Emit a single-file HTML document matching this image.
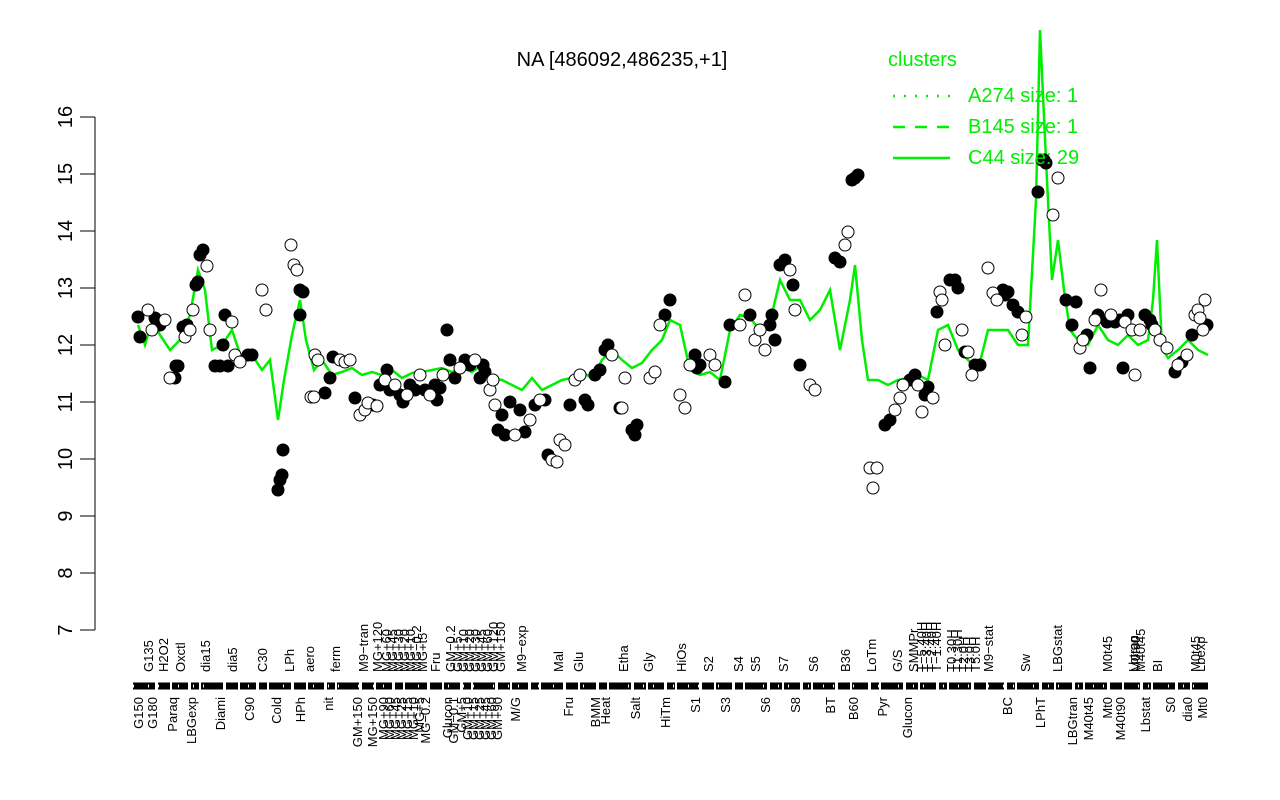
<!DOCTYPE html>
<html><head><meta charset="utf-8"><style>body{margin:0;background:#fff}svg{display:block}</style></head>
<body>
<svg width="1280" height="800" xmlns="http://www.w3.org/2000/svg" font-family="Liberation Sans, sans-serif">
<rect width="1280" height="800" fill="#fff"/>
<text x="622" y="66" font-size="20" text-anchor="middle">NA [486092,486235,+1]</text>
<g stroke="#000" stroke-width="1">
<line x1="95" y1="117" x2="95" y2="630"/>
<line x1="80" y1="117" x2="95" y2="117"/><line x1="80" y1="174" x2="95" y2="174"/><line x1="80" y1="231" x2="95" y2="231"/><line x1="80" y1="288" x2="95" y2="288"/><line x1="80" y1="345" x2="95" y2="345"/><line x1="80" y1="402" x2="95" y2="402"/><line x1="80" y1="459" x2="95" y2="459"/><line x1="80" y1="516" x2="95" y2="516"/><line x1="80" y1="573" x2="95" y2="573"/><line x1="80" y1="630" x2="95" y2="630"/>
</g>
<g font-size="20" text-anchor="middle">
<text transform="translate(72,117) rotate(-90)">16</text><text transform="translate(72,174) rotate(-90)">15</text><text transform="translate(72,231) rotate(-90)">14</text><text transform="translate(72,288) rotate(-90)">13</text><text transform="translate(72,345) rotate(-90)">12</text><text transform="translate(72,402) rotate(-90)">11</text><text transform="translate(72,459) rotate(-90)">10</text><text transform="translate(72,516) rotate(-90)">9</text><text transform="translate(72,573) rotate(-90)">8</text><text transform="translate(72,630) rotate(-90)">7</text>
</g>
<polyline fill="none" stroke="#00ee00" stroke-width="2.5" points="138,325 145,345 152,320 160,335 170,350 180,340 190,315 198,270 205,290 212,350 222,345 232,330 242,360 252,355 262,370 270,360 278,420 284,380 292,335 300,300 306,340 314,370 322,360 332,375 342,372 352,368 362,375 372,372 382,375 392,370 402,378 412,373 422,372 432,370 442,368 452,372 462,368 472,372 482,365 492,378 502,380 512,385 522,390 532,378 542,390 552,385 562,380 572,378 582,372 592,378 602,360 612,350 622,360 632,368 642,363 652,350 662,340 670,320 680,325 690,370 700,375 710,372 720,380 730,330 740,315 750,318 760,330 770,322 780,280 790,300 800,300 810,320 820,310 830,290 840,350 850,300 855,265 862,340 868,380 878,380 888,385 898,380 908,378 918,375 928,380 938,330 948,325 958,350 968,360 978,370 988,330 998,330 1008,330 1018,345 1028,345 1036,200 1040,30 1046,160 1052,280 1058,240 1064,290 1070,330 1078,340 1088,345 1098,325 1108,340 1118,345 1128,335 1138,345 1148,340 1153,300 1157,240 1162,348 1168,358 1178,350 1188,340 1198,350 1208,355"/>
<g stroke="#000" stroke-width="1">
<g fill="#000">
<circle cx="138" cy="317" r="6"/><circle cx="140" cy="337" r="6"/><circle cx="155" cy="318" r="6"/><circle cx="160" cy="325" r="6"/><circle cx="175" cy="378" r="6"/><circle cx="176" cy="366" r="6"/><circle cx="178" cy="366" r="6"/><circle cx="183" cy="327" r="6"/><circle cx="187" cy="325" r="6"/><circle cx="196" cy="285" r="6"/><circle cx="198" cy="282" r="6"/><circle cx="200" cy="255" r="6"/><circle cx="203" cy="250" r="6"/><circle cx="215" cy="366" r="6"/><circle cx="220" cy="366" r="6"/><circle cx="223" cy="345" r="6"/><circle cx="225" cy="315" r="6"/><circle cx="228" cy="366" r="6"/><circle cx="248" cy="355" r="6"/><circle cx="252" cy="355" r="6"/><circle cx="278" cy="490" r="6"/><circle cx="280" cy="480" r="6"/><circle cx="282" cy="475" r="6"/><circle cx="283" cy="450" r="6"/><circle cx="300" cy="290" r="6"/><circle cx="303" cy="292" r="6"/><circle cx="300" cy="315" r="6"/><circle cx="325" cy="393" r="6"/><circle cx="330" cy="378" r="6"/><circle cx="333" cy="357" r="6"/><circle cx="355" cy="398" r="6"/><circle cx="373" cy="405" r="6"/><circle cx="380" cy="385" r="6"/><circle cx="387" cy="370" r="6"/><circle cx="390" cy="390" r="6"/><circle cx="400" cy="395" r="6"/><circle cx="403" cy="402" r="6"/><circle cx="410" cy="385" r="6"/><circle cx="415" cy="390" r="6"/><circle cx="425" cy="390" r="6"/><circle cx="435" cy="385" r="6"/><circle cx="437" cy="400" r="6"/><circle cx="440" cy="388" r="6"/><circle cx="447" cy="330" r="6"/><circle cx="450" cy="360" r="6"/><circle cx="455" cy="378" r="6"/><circle cx="465" cy="360" r="6"/><circle cx="470" cy="365" r="6"/><circle cx="480" cy="378" r="6"/><circle cx="483" cy="365" r="6"/><circle cx="485" cy="372" r="6"/><circle cx="498" cy="430" r="6"/><circle cx="502" cy="415" r="6"/><circle cx="505" cy="435" r="6"/><circle cx="510" cy="402" r="6"/><circle cx="520" cy="410" r="6"/><circle cx="525" cy="432" r="6"/><circle cx="535" cy="405" r="6"/><circle cx="545" cy="400" r="6"/><circle cx="548" cy="455" r="6"/><circle cx="570" cy="405" r="6"/><circle cx="585" cy="400" r="6"/><circle cx="588" cy="405" r="6"/><circle cx="595" cy="375" r="6"/><circle cx="600" cy="370" r="6"/><circle cx="605" cy="350" r="6"/><circle cx="608" cy="345" r="6"/><circle cx="620" cy="408" r="6"/><circle cx="632" cy="430" r="6"/><circle cx="635" cy="435" r="6"/><circle cx="637" cy="425" r="6"/><circle cx="665" cy="315" r="6"/><circle cx="670" cy="300" r="6"/><circle cx="695" cy="355" r="6"/><circle cx="697" cy="368" r="6"/><circle cx="700" cy="365" r="6"/><circle cx="725" cy="382" r="6"/><circle cx="730" cy="325" r="6"/><circle cx="750" cy="315" r="6"/><circle cx="770" cy="325" r="6"/><circle cx="772" cy="315" r="6"/><circle cx="775" cy="340" r="6"/><circle cx="780" cy="265" r="6"/><circle cx="785" cy="260" r="6"/><circle cx="793" cy="285" r="6"/><circle cx="800" cy="365" r="6"/><circle cx="835" cy="258" r="6"/><circle cx="840" cy="262" r="6"/><circle cx="852" cy="180" r="6"/><circle cx="855" cy="178" r="6"/><circle cx="858" cy="175" r="6"/><circle cx="885" cy="425" r="6"/><circle cx="890" cy="420" r="6"/><circle cx="910" cy="380" r="6"/><circle cx="915" cy="375" r="6"/><circle cx="925" cy="395" r="6"/><circle cx="928" cy="387" r="6"/><circle cx="937" cy="312" r="6"/><circle cx="950" cy="280" r="6"/><circle cx="955" cy="280" r="6"/><circle cx="958" cy="288" r="6"/><circle cx="965" cy="352" r="6"/><circle cx="975" cy="365" r="6"/><circle cx="980" cy="365" r="6"/><circle cx="1003" cy="290" r="6"/><circle cx="1005" cy="295" r="6"/><circle cx="1008" cy="292" r="6"/><circle cx="1013" cy="305" r="6"/><circle cx="1018" cy="312" r="6"/><circle cx="1038" cy="192" r="6"/><circle cx="1042" cy="160" r="6"/><circle cx="1044" cy="160" r="6"/><circle cx="1046" cy="163" r="6"/><circle cx="1066" cy="300" r="6"/><circle cx="1072" cy="325" r="6"/><circle cx="1076" cy="302" r="6"/><circle cx="1087" cy="335" r="6"/><circle cx="1090" cy="368" r="6"/><circle cx="1098" cy="315" r="6"/><circle cx="1107" cy="322" r="6"/><circle cx="1115" cy="322" r="6"/><circle cx="1120" cy="320" r="6"/><circle cx="1123" cy="368" r="6"/><circle cx="1128" cy="315" r="6"/><circle cx="1145" cy="315" r="6"/><circle cx="1150" cy="320" r="6"/><circle cx="1152" cy="325" r="6"/><circle cx="1175" cy="372" r="6"/><circle cx="1182" cy="362" r="6"/><circle cx="1192" cy="335" r="6"/><circle cx="1207" cy="325" r="6"/>
</g>
<g fill="#fff">
<circle cx="148" cy="310" r="6"/><circle cx="152" cy="330" r="6"/><circle cx="165" cy="320" r="6"/><circle cx="170" cy="378" r="6"/><circle cx="185" cy="337" r="6"/><circle cx="190" cy="330" r="6"/><circle cx="193" cy="310" r="6"/><circle cx="207" cy="266" r="6"/><circle cx="210" cy="330" r="6"/><circle cx="232" cy="322" r="6"/><circle cx="235" cy="355" r="6"/><circle cx="240" cy="362" r="6"/><circle cx="262" cy="290" r="6"/><circle cx="266" cy="310" r="6"/><circle cx="291" cy="245" r="6"/><circle cx="294" cy="265" r="6"/><circle cx="297" cy="270" r="6"/><circle cx="315" cy="355" r="6"/><circle cx="311" cy="397" r="6"/><circle cx="314" cy="397" r="6"/><circle cx="318" cy="360" r="6"/><circle cx="340" cy="360" r="6"/><circle cx="345" cy="362" r="6"/><circle cx="350" cy="360" r="6"/><circle cx="360" cy="415" r="6"/><circle cx="365" cy="410" r="6"/><circle cx="368" cy="403" r="6"/><circle cx="377" cy="406" r="6"/><circle cx="385" cy="380" r="6"/><circle cx="395" cy="385" r="6"/><circle cx="407" cy="395" r="6"/><circle cx="420" cy="375" r="6"/><circle cx="430" cy="395" r="6"/><circle cx="443" cy="375" r="6"/><circle cx="460" cy="368" r="6"/><circle cx="475" cy="360" r="6"/><circle cx="490" cy="390" r="6"/><circle cx="493" cy="380" r="6"/><circle cx="495" cy="405" r="6"/><circle cx="515" cy="435" r="6"/><circle cx="530" cy="420" r="6"/><circle cx="540" cy="400" r="6"/><circle cx="552" cy="460" r="6"/><circle cx="557" cy="462" r="6"/><circle cx="560" cy="440" r="6"/><circle cx="565" cy="445" r="6"/><circle cx="575" cy="380" r="6"/><circle cx="580" cy="375" r="6"/><circle cx="612" cy="355" r="6"/><circle cx="625" cy="378" r="6"/><circle cx="622" cy="408" r="6"/><circle cx="650" cy="378" r="6"/><circle cx="655" cy="372" r="6"/><circle cx="660" cy="325" r="6"/><circle cx="680" cy="395" r="6"/><circle cx="685" cy="408" r="6"/><circle cx="690" cy="365" r="6"/><circle cx="710" cy="355" r="6"/><circle cx="715" cy="365" r="6"/><circle cx="740" cy="325" r="6"/><circle cx="745" cy="295" r="6"/><circle cx="755" cy="340" r="6"/><circle cx="760" cy="330" r="6"/><circle cx="765" cy="350" r="6"/><circle cx="790" cy="270" r="6"/><circle cx="795" cy="310" r="6"/><circle cx="810" cy="385" r="6"/><circle cx="815" cy="390" r="6"/><circle cx="845" cy="245" r="6"/><circle cx="848" cy="232" r="6"/><circle cx="870" cy="468" r="6"/><circle cx="873" cy="488" r="6"/><circle cx="877" cy="468" r="6"/><circle cx="895" cy="410" r="6"/><circle cx="900" cy="398" r="6"/><circle cx="903" cy="385" r="6"/><circle cx="918" cy="385" r="6"/><circle cx="922" cy="412" r="6"/><circle cx="933" cy="398" r="6"/><circle cx="940" cy="292" r="6"/><circle cx="942" cy="300" r="6"/><circle cx="945" cy="345" r="6"/><circle cx="962" cy="330" r="6"/><circle cx="968" cy="352" r="6"/><circle cx="972" cy="375" r="6"/><circle cx="988" cy="268" r="6"/><circle cx="993" cy="293" r="6"/><circle cx="997" cy="300" r="6"/><circle cx="1022" cy="335" r="6"/><circle cx="1026" cy="317" r="6"/><circle cx="1053" cy="215" r="6"/><circle cx="1058" cy="178" r="6"/><circle cx="1080" cy="348" r="6"/><circle cx="1083" cy="340" r="6"/><circle cx="1095" cy="320" r="6"/><circle cx="1101" cy="290" r="6"/><circle cx="1111" cy="315" r="6"/><circle cx="1125" cy="322" r="6"/><circle cx="1132" cy="330" r="6"/><circle cx="1135" cy="375" r="6"/><circle cx="1140" cy="330" r="6"/><circle cx="1155" cy="330" r="6"/><circle cx="1160" cy="340" r="6"/><circle cx="1167" cy="348" r="6"/><circle cx="1178" cy="365" r="6"/><circle cx="1187" cy="355" r="6"/><circle cx="1195" cy="315" r="6"/><circle cx="1198" cy="310" r="6"/><circle cx="1200" cy="318" r="6"/><circle cx="1203" cy="330" r="6"/><circle cx="1205" cy="300" r="6"/>
</g>
</g>
<!-- axis rug -->
<line x1="133" y1="686" x2="1210" y2="686" stroke="#000" stroke-width="7" stroke-dasharray="22 3 12 2 16 3 8 2"/>
<line x1="133" y1="686" x2="1210" y2="686" stroke="#fff" stroke-width="3" stroke-dasharray="1 14 1 9 1 19"/>
<!-- x labels lower -->
<g font-size="13" text-anchor="end">
<text transform="translate(143,697) rotate(-90)">G150</text><text transform="translate(157,697) rotate(-90)">G180</text><text transform="translate(177,697) rotate(-90)">Paraq</text><text transform="translate(196,697) rotate(-90)">LBGexp</text><text transform="translate(225,697) rotate(-90)">Diami</text><text transform="translate(254,697) rotate(-90)">C90</text><text transform="translate(281,697) rotate(-90)">Cold</text><text transform="translate(305,697) rotate(-90)">HPh</text><text transform="translate(333,697) rotate(-90)">nit</text><text transform="translate(362,697) rotate(-90)">GM+150</text><text transform="translate(377,697) rotate(-90)">MG+150</text>
<text transform="translate(388,697) rotate(-90)">MG+90</text><text transform="translate(394,697) rotate(-90)">MG+60</text><text transform="translate(400,697) rotate(-90)">MG+45</text><text transform="translate(406,697) rotate(-90)">MG+25</text><text transform="translate(412,697) rotate(-90)">MG+15</text><text transform="translate(418,697) rotate(-90)">MG+10</text><text transform="translate(424,697) rotate(-90)">MG+5</text><text transform="translate(430,697) rotate(-90)">MG−0.2</text><text transform="translate(452,697) rotate(-90)">Glucon</text><text transform="translate(458,697) rotate(-90)">GM−0.1</text><text transform="translate(466,697) rotate(-90)">GM+5</text><text transform="translate(472,697) rotate(-90)">GM+10</text><text transform="translate(478,697) rotate(-90)">GM+15</text><text transform="translate(484,697) rotate(-90)">GM+25</text><text transform="translate(490,697) rotate(-90)">GM+45</text><text transform="translate(496,697) rotate(-90)">GM+60</text><text transform="translate(502,697) rotate(-90)">GM+90</text>
<text transform="translate(520,697) rotate(-90)">M/G</text><text transform="translate(573,697) rotate(-90)">Fru</text><text transform="translate(600,697) rotate(-90)">BMM</text><text transform="translate(610,697) rotate(-90)">Heat</text><text transform="translate(640,697) rotate(-90)">Salt</text><text transform="translate(670,697) rotate(-90)">HiTm</text><text transform="translate(700,697) rotate(-90)">S1</text><text transform="translate(730,697) rotate(-90)">S3</text><text transform="translate(770,697) rotate(-90)">S6</text><text transform="translate(800,697) rotate(-90)">S8</text><text transform="translate(835,697) rotate(-90)">BT</text><text transform="translate(858,697) rotate(-90)">B60</text><text transform="translate(887,697) rotate(-90)">Pyr</text><text transform="translate(912,697) rotate(-90)">Glucon</text><text transform="translate(1012,697) rotate(-90)">BC</text><text transform="translate(1045,697) rotate(-90)">LPhT</text><text transform="translate(1077,697) rotate(-90)">LBGtran</text><text transform="translate(1093,697) rotate(-90)">M40t45</text><text transform="translate(1112,697) rotate(-90)">Mt0</text><text transform="translate(1125,697) rotate(-90)">M40t90</text><text transform="translate(1150,697) rotate(-90)">Lbstat</text><text transform="translate(1175,697) rotate(-90)">S0</text><text transform="translate(1192,697) rotate(-90)">dia0</text><text transform="translate(1207,697) rotate(-90)">Mt0</text>
</g>
<g font-size="13" text-anchor="start">
<text transform="translate(153,672) rotate(-90)">G135</text><text transform="translate(168,672) rotate(-90)">H2O2</text><text transform="translate(185,672) rotate(-90)">Oxctl</text><text transform="translate(210,672) rotate(-90)">dia15</text><text transform="translate(237,672) rotate(-90)">dia5</text><text transform="translate(267,672) rotate(-90)">C30</text><text transform="translate(294,672) rotate(-90)">LPh</text><text transform="translate(314,672) rotate(-90)">aero</text><text transform="translate(340,672) rotate(-90)">ferm</text><text transform="translate(368,672) rotate(-90)">M9−tran</text><text transform="translate(382,672) rotate(-90)">MG+120</text>
<text transform="translate(391,672) rotate(-90)">MG+60</text><text transform="translate(397,672) rotate(-90)">MG+45</text><text transform="translate(403,672) rotate(-90)">MG+30</text><text transform="translate(409,672) rotate(-90)">MG+20</text><text transform="translate(415,672) rotate(-90)">MG+10</text><text transform="translate(421,672) rotate(-90)">MG−0.2</text><text transform="translate(427,672) rotate(-90)">MG+t5</text><text transform="translate(440,672) rotate(-90)">Fru</text><text transform="translate(455,672) rotate(-90)">GM−0.2</text><text transform="translate(462,672) rotate(-90)">GM+5</text><text transform="translate(468,672) rotate(-90)">GM+10</text><text transform="translate(474,672) rotate(-90)">GM+20</text><text transform="translate(480,672) rotate(-90)">GM+30</text><text transform="translate(486,672) rotate(-90)">GM+45</text><text transform="translate(492,672) rotate(-90)">GM+60</text><text transform="translate(498,672) rotate(-90)">GM+120</text><text transform="translate(505,672) rotate(-90)">GM+150</text>
<text transform="translate(526,672) rotate(-90)">M9−exp</text><text transform="translate(563,672) rotate(-90)">Mal</text><text transform="translate(583,672) rotate(-90)">Glu</text><text transform="translate(628,672) rotate(-90)">Etha</text><text transform="translate(653,672) rotate(-90)">Gly</text><text transform="translate(686,672) rotate(-90)">HiOs</text><text transform="translate(713,672) rotate(-90)">S2</text><text transform="translate(743,672) rotate(-90)">S4</text><text transform="translate(760,672) rotate(-90)">S5</text><text transform="translate(788,672) rotate(-90)">S7</text><text transform="translate(818,672) rotate(-90)">S6</text><text transform="translate(850,672) rotate(-90)">B36</text><text transform="translate(876,672) rotate(-90)">LoTm</text><text transform="translate(902,672) rotate(-90)">G/S</text>
<text transform="translate(918,672) rotate(-90)">SMMPr</text><text transform="translate(926,672) rotate(-90)">T−5.40H</text><text transform="translate(931,672) rotate(-90)">T−3.40H</text><text transform="translate(936,672) rotate(-90)">T−2.40H</text><text transform="translate(941,672) rotate(-90)">T−1.40H</text><text transform="translate(956,672) rotate(-90)">T0.30H</text><text transform="translate(962,672) rotate(-90)">T1.30H</text><text transform="translate(968,672) rotate(-90)">T2.0H</text><text transform="translate(974,672) rotate(-90)">T3.0H</text><text transform="translate(980,672) rotate(-90)">T5.0H</text>
<text transform="translate(993,672) rotate(-90)">M9−stat</text><text transform="translate(1030,672) rotate(-90)">Sw</text><text transform="translate(1062,672) rotate(-90)">LBGstat</text><text transform="translate(1112,672) rotate(-90)">M0t45</text><text transform="translate(1138,672) rotate(-90)">Lbtran</text><text transform="translate(1145,672) rotate(-90)">M40t45</text><text transform="translate(1140,672) rotate(-90)">M0t90</text><text transform="translate(1162,672) rotate(-90)">BI</text><text transform="translate(1200,672) rotate(-90)">M0t45</text><text transform="translate(1205,672) rotate(-90)">Lbexp</text>
</g>
<g fill="#00ee00" font-size="20">
<text x="888" y="66">clusters</text>
<text x="968" y="102">A274 size: 1</text>
<text x="968" y="133">B145 size: 1</text>
<text x="968" y="164">C44 size: 29</text>
</g>
<g stroke="#00ee00" stroke-width="2.5">
<line x1="893" y1="96" x2="950" y2="96" stroke-dasharray="2 9"/>
<line x1="893" y1="127" x2="950" y2="127" stroke-dasharray="12 10"/>
<line x1="893" y1="158" x2="950" y2="158"/>
</g>
</svg>
</body></html>
